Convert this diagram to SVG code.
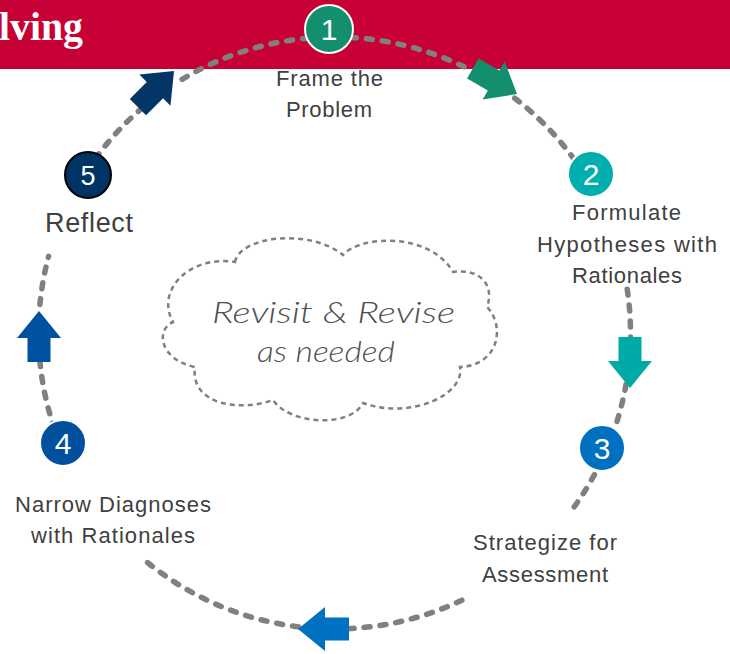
<svg xmlns="http://www.w3.org/2000/svg" width="730" height="654" viewBox="0 0 730 654">
<style>
.ring{fill:none;stroke:#808080;stroke-width:5.5;stroke-linecap:round;stroke-dasharray:6 10}
.cloud{fill:none;stroke:#808080;stroke-width:2.5;stroke-dasharray:5 4}
.num{font-family:"Liberation Sans",Arial,sans-serif;font-size:30px;fill:#fff;text-anchor:middle}
.lbl{font-family:"Liberation Sans",Arial,sans-serif;font-size:22px;fill:#404040;text-anchor:middle}
.big{font-size:27px}
.hand{font-family:"Lato","DejaVu Sans",sans-serif;font-weight:300;font-style:italic;font-size:29px;fill:#505050;text-anchor:middle}
.nodec{stroke:#fff;stroke-width:2}
</style>
<defs>
<path id="arr" d="M0,0 L-27,-22 L-27,-11.5 L-51,-11.5 L-51,11.5 L-27,11.5 L-27,22 Z"/>
</defs>
<rect x="0" y="0" width="730" height="69" fill="#C70036"/>
<text x="-1" y="40" font-family="'Liberation Serif',serif" font-weight="bold" font-size="39" fill="#fff" textLength="84" lengthAdjust="spacingAndGlyphs">lving</text>
<g id="connectors">
<path class="ring" d="M182.1,79.3 A296,296 0 0 1 471.2,70.4"/>
<path class="ring" d="M514.7,98.2 A296,296 0 0 1 588.2,180.6"/>
<path class="ring" d="M627.2,289.2 A296,296 0 0 1 630.5,338.2"/>
<path class="ring" d="M626.0,384.4 A296,296 0 0 1 572.5,509.1"/>
<path class="ring" d="M461.9,600.2 A296,296 0 0 1 347.4,628.7"/>
<path class="ring" d="M298.4,626.8 A296,296 0 0 1 146.2,561.4"/>
<path class="ring" d="M60.1,443.9 A296,296 0 0 1 39.9,361.4"/>
<path class="ring" d="M39.9,304.6 A296,296 0 0 1 48.6,256.4"/>
<path class="ring" d="M86.2,171.8 A296,296 0 0 1 142.3,107.9"/>
<use href="#arr" transform="translate(174,71) rotate(-45)" fill="#033566"/>
<use href="#arr" transform="translate(517,94) rotate(30)" fill="#148F6E"/>
<use href="#arr" transform="translate(630,388) rotate(90)" fill="#00AAA6"/>
<use href="#arr" transform="translate(298,629) rotate(180)" fill="#0070C0"/>
<use href="#arr" transform="translate(39,311) rotate(-90)" fill="#0052A0"/>
</g>
<g id="cloud">
<path class="cloud" d="M235,262 C240,236 310,228 343,255 C360,235 430,232 453,272 C480,268 495,285 487,307 C505,325 500,365 460,367 C465,395 410,420 363,403 C350,428 290,425 273,400 C240,412 190,405 195,367 C160,360 155,330 173,322 C155,290 190,255 235,262 Z"/>
<text class="hand" x="333.5" y="323" textLength="243" lengthAdjust="spacingAndGlyphs">Revisit &amp; Revise</text>
<text class="hand" x="326" y="362" textLength="138" lengthAdjust="spacingAndGlyphs">as needed</text>
</g>
<g id="node1">
<circle class="nodec" cx="329" cy="29" r="24" fill="#148F6E"/>
<text class="num" x="329" y="40">1</text>
<text class="lbl" x="329.5" y="86" textLength="107" lengthAdjust="spacing">Frame the</text>
<text class="lbl" x="329" y="117" textLength="86" lengthAdjust="spacing">Problem</text>
</g>
<g id="node2">
<circle class="nodec" cx="591" cy="174" r="23" fill="#00AEAD"/>
<text class="num" x="591" y="185">2</text>
<text class="lbl" x="626.5" y="220" textLength="109" lengthAdjust="spacing">Formulate</text>
<text class="lbl" x="627" y="252" textLength="180" lengthAdjust="spacing">Hypotheses with</text>
<text class="lbl" x="627" y="283" textLength="110" lengthAdjust="spacing">Rationales</text>
</g>
<g id="node3">
<circle class="nodec" cx="602" cy="448" r="23" fill="#0070C0"/>
<text class="num" x="602" y="459">3</text>
<text class="lbl" x="545" y="550" textLength="144" lengthAdjust="spacing">Strategize for</text>
<text class="lbl" x="545" y="582" textLength="126" lengthAdjust="spacing">Assessment</text>
</g>
<g id="node4">
<circle class="nodec" cx="63" cy="443" r="23" fill="#00509E"/>
<text class="num" x="63" y="454">4</text>
<text class="lbl" x="113" y="512" textLength="196" lengthAdjust="spacing">Narrow Diagnoses</text>
<text class="lbl" x="113" y="543" textLength="164" lengthAdjust="spacing">with Rationales</text>
</g>
<g id="node5">
<circle cx="88" cy="175" r="23" fill="#003366" stroke="#000" stroke-width="2"/>
<text class="num" x="88" y="185" style="font-size:27px">5</text>
<text class="lbl big" x="89" y="232" textLength="88" lengthAdjust="spacing">Reflect</text>
</g>
</svg>
